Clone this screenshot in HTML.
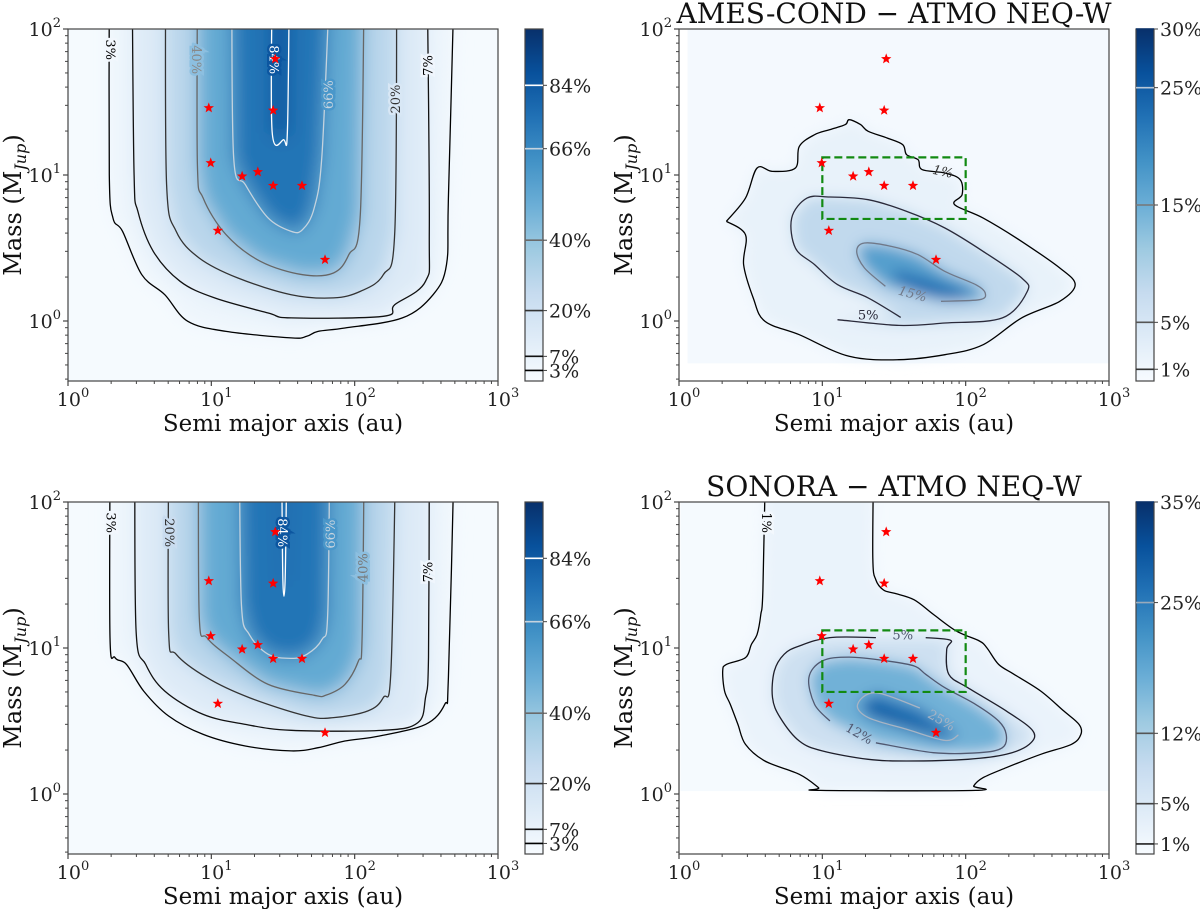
<!DOCTYPE html>
<html><head><meta charset="utf-8"><style>
html,body{margin:0;padding:0;background:#fff;}
svg{display:block;font-family:"DejaVu Serif","Liberation Serif",serif;}
</style></head><body>
<svg id="fig" width="1200" height="909" viewBox="0 0 1200 909" xmlns="http://www.w3.org/2000/svg">
<defs>
<filter id="blurL" x="-20%" y="-20%" width="140%" height="140%"><feGaussianBlur stdDeviation="9"/></filter>
<filter id="blurR" x="-20%" y="-20%" width="140%" height="140%"><feGaussianBlur stdDeviation="7"/></filter>
</defs>
</svg>
<script>
// ---------- data (log10 a [au], log10 M [Mjup]) ----------
const stars = [[9.6,28.8],[27,27.7],[27.9,62.4],[9.9,12.1],[16.4,9.8],[21.1,10.5],[27,8.45],[42.9,8.45],[11.1,4.16],[62.1,2.63]];
const boxA = [10,100];
const boxM = [5,13.2];

const tlLevels = [3,7,20,40,66,84];
const tl3 = [[0.288,2.3],[0.288,1.0],[0.314,0.705],[0.381,0.614],[0.515,0.317],[0.675,0.18],[0.836,-0.002],[1.103,-0.071],[1.557,-0.116],[1.665,-0.105],[1.745,-0.071],[1.932,-0.048],[2.333,0.021],[2.547,0.18],[2.641,0.386],[2.654,0.842],[2.694,2.3]];
const tl7 = [[0.448,2.3],[0.461,1.0],[0.488,0.751],[0.595,0.477],[0.782,0.272],[1.023,0.158],[1.397,0.055],[1.557,0.021],[2.2,0.032],[2.28,0.112],[2.494,0.272],[2.521,0.614],[2.507,2.3]];
const tl20 = [[0.68,2.3],[0.688,0.934],[0.755,0.614],[0.916,0.431],[1.183,0.295],[1.557,0.18],[1.852,0.158],[2.039,0.203],[2.2,0.317],[2.28,0.614],[2.293,2.3]];
const tl40 = [[0.903,2.3],[0.903,1.071],[0.943,0.842],[1.103,0.591],[1.344,0.408],[1.637,0.317],[1.852,0.329],[1.959,0.454],[2.039,0.728],[2.066,2.3]];
const tl66 = [[1.143,2.3],[1.156,1.116],[1.237,0.934],[1.397,0.705],[1.557,0.614],[1.637,0.626],[1.718,0.774],[1.772,1.139],[1.825,2.3]];
const tl84 = [[1.424,2.3],[1.424,1.299],[1.504,1.242],[1.531,1.299],[1.544,2.3]];

const blLevels = [3,7,20,40,66,84];
const bl3 = [[0.293,2.3],[0.293,1.071],[0.328,0.934],[0.408,0.888],[0.528,0.705],[0.702,0.534],[0.943,0.408],[1.237,0.329],[1.557,0.295],[1.745,0.317],[1.932,0.363],[2.173,0.397],[2.494,0.477],[2.628,0.614],[2.654,0.797],[2.694,2.3]];
const bl7 = [[0.466,2.3],[0.475,1.116],[0.542,0.888],[0.675,0.705],[0.943,0.545],[1.237,0.477],[1.557,0.436],[2.2,0.436],[2.441,0.489],[2.494,0.66],[2.515,0.934],[2.521,2.3]];
const bl20 = [[0.702,2.3],[0.702,1.116],[0.755,0.957],[0.969,0.797],[1.264,0.66],[1.665,0.534],[1.852,0.523],[2.093,0.569],[2.2,0.66],[2.253,0.842],[2.285,2.3]];
const bl40 = [[0.91,2.3],[0.916,1.208],[0.969,1.071],[1.13,0.934],[1.397,0.751],[1.718,0.676],[1.798,0.676],[1.932,0.751],[2.026,0.911],[2.052,1.071],[2.066,2.3]];
const bl66 = [[1.196,2.3],[1.21,1.299],[1.264,1.094],[1.397,0.957],[1.557,0.929],[1.665,0.956],[1.772,1.059],[1.812,1.23],[1.825,2.3]];
const bl84 = [[1.491,2.3],[1.499,1.46],[1.515,1.46],[1.526,2.3]];

const trLevels = [1,5,15];
const tr1 = [[0.331,0.683],[0.464,0.842],[0.545,1.048],[0.652,1.025],[0.812,1.048],[0.839,1.196],[0.946,1.276],[1.053,1.311],[1.16,1.345],[1.187,1.379],[1.267,1.345],[1.32,1.299],[1.454,1.253],[1.561,1.208],[1.588,1.139],[1.668,1.105],[1.695,1.037],[1.855,1.014],[1.962,0.968],[1.975,0.865],[1.922,0.797],[2.122,0.705],[2.39,0.545],[2.657,0.363],[2.764,0.249],[2.657,0.135],[2.39,0.021],[2.122,-0.162],[1.855,-0.231],[1.534,-0.265],[1.187,-0.242],[0.839,-0.094],[0.599,-0.002],[0.518,0.158],[0.451,0.386],[0.464,0.591],[0.331,0.683]];
const tr5 = [[1.547,0.025],[1.32,0.158],[1.106,0.249],[0.946,0.386],[0.812,0.5],[0.786,0.705],[0.893,0.842],[1.053,0.849],[1.32,0.831],[1.588,0.751],[1.855,0.637],[2.122,0.477],[2.39,0.295],[2.43,0.203],[2.256,0.021],[1.855,-0.014],[1.534,-0.03],[1.106,0.009]];
const tr15 = [[1.44,0.238],[1.294,0.363],[1.24,0.477],[1.294,0.534],[1.481,0.511],[1.668,0.454],[1.855,0.34],[2.069,0.249],[2.136,0.192],[2.096,0.146],[1.828,0.135]];
const trCore = [[1.5,0.35],[1.7,0.3],[1.95,0.22],[2.05,0.18],[1.95,0.14],[1.7,0.18],[1.5,0.28]];

const brLevels = [1,5,12,25];
const br1 = [[0.604,2.3],[0.585,1.397],[0.571,1.23],[0.545,1.094],[0.505,1.025],[0.464,0.934],[0.331,0.888],[0.305,0.842],[0.318,0.705],[0.358,0.614],[0.411,0.477],[0.464,0.34],[0.599,0.226],[0.839,0.135],[0.973,0.044],[0.986,0.025],[2.069,0.025],[2.056,0.055],[2.122,0.112],[2.283,0.18],[2.524,0.272],[2.737,0.34],[2.804,0.408],[2.791,0.477],[2.684,0.569],[2.524,0.705],[2.337,0.82],[2.23,0.888],[2.149,1.0],[2.096,1.048],[1.935,1.116],[1.775,1.23],[1.641,1.33],[1.507,1.374],[1.427,1.397],[1.374,1.466],[1.352,1.619],[1.358,2.3]];
const br5 = [[1.721,1.071],[1.895,1.053],[1.868,0.991],[1.882,0.82],[2.015,0.728],[2.283,0.569],[2.47,0.431],[2.443,0.34],[2.283,0.272],[2.015,0.238],[1.588,0.226],[1.32,0.238],[0.999,0.295],[0.839,0.363],[0.706,0.523],[0.652,0.66],[0.665,0.842],[0.733,0.957],[0.839,1.014],[1.053,1.071],[1.374,1.071]];
const br12 = [[1.374,0.351],[1.775,0.283],[2.096,0.283],[2.256,0.317],[2.283,0.408],[2.23,0.5],[2.069,0.614],[1.855,0.728],[1.721,0.82],[1.641,0.877],[1.454,0.911],[1.187,0.938],[0.999,0.911],[0.906,0.797],[0.946,0.614],[1.053,0.5]];
const br25 = [[1.681,0.589],[1.374,0.694],[1.246,0.614],[1.32,0.523],[1.588,0.443],[1.855,0.367],[1.949,0.404]];
const brCore = [[1.35,0.62],[1.5,0.56],[1.75,0.45],[1.85,0.4],[1.7,0.42],[1.45,0.5],[1.3,0.58]];

const xTickLabels = ["0","1","2","3"];
const yTickLabels = ["0","1","2"];

// ---------- helpers ----------
const NS = "http://www.w3.org/2000/svg";
const svg = document.getElementById("fig");
const W = 430, H = 352, YMIN = 2 - 352/146, YMAX = 2;
const blues = [[0,"#f7fbff"],[0.125,"#deebf7"],[0.25,"#c6dbef"],[0.375,"#9ecae1"],[0.5,"#6baed6"],[0.625,"#4292c6"],[0.75,"#2171b5"],[0.875,"#08519c"],[1,"#08306b"]];
function hex(c){return [parseInt(c.slice(1,3),16),parseInt(c.slice(3,5),16),parseInt(c.slice(5,7),16)];}
function cmap(t){t=Math.max(0,Math.min(1,t));for(let i=1;i<blues.length;i++){if(t<=blues[i][0]){const a=blues[i-1],b=blues[i];const f=(t-a[0])/(b[0]-a[0]);const ca=hex(a[1]),cb=hex(b[1]);return "rgb("+ca.map((v,k)=>Math.round(v+(cb[k]-v)*f)).join(",")+")";}}return blues[8][1];}
function el(tag,attrs,parent){const e=document.createElementNS(NS,tag);for(const k in attrs)e.setAttribute(k,attrs[k]);(parent||svg).appendChild(e);return e;}
function sx(p,la){return p.x0 + la/3*W;}
function sy(p,lm){return p.y0 + (YMAX-lm)/(YMAX-YMIN)*H;}
function pts(p,arr){return arr.map(q=>sx(p,q[0]).toFixed(1)+","+sy(p,q[1]).toFixed(1)).join(" ");}
function smooth(p,arr){
  const P=arr.map(q=>[sx(p,q[0]),sy(p,q[1])]);
  let d="M"+P[0][0].toFixed(1)+","+P[0][1].toFixed(1);
  for(let i=0;i<P.length-1;i++){
    const p0=P[Math.max(0,i-1)],p1=P[i],p2=P[i+1],p3=P[Math.min(P.length-1,i+2)];
    const c1=[p1[0]+(p2[0]-p0[0])/6,p1[1]+(p2[1]-p0[1])/6];
    const c2=[p2[0]-(p3[0]-p1[0])/6,p2[1]-(p3[1]-p1[1])/6];
    d+=" C"+c1[0].toFixed(1)+","+c1[1].toFixed(1)+" "+c2[0].toFixed(1)+","+c2[1].toFixed(1)+" "+p2[0].toFixed(1)+","+p2[1].toFixed(1);
  }
  return d;
}

function panel(p){
  const g = el("g",{});
  
  
  const cid = "clip-"+p.name;
  const cp = el("clipPath",{id:cid},g);
  el("rect",{x:p.x0,y:p.y0,width:W,height:H},cp);
  const plot = el("g",{"clip-path":"url(#"+cid+")"},g);
  
  
  el("rect",{x:p.x0,y:p.y0,width:W,height:H,fill:"#ffffff"},plot);
  if(p.bgA){
    el("rect",{x:sx(p,p.bgA[0]),y:sy(p,p.bgM[1]),width:sx(p,p.bgA[1])-sx(p,p.bgA[0]),height:sy(p,p.bgM[0])-sy(p,p.bgM[1]),fill:cmap(p.bgVal/p.vmax)},plot);
  } else {
    el("rect",{x:p.x0,y:p.y0,width:W,height:H,fill:cmap(p.bgVal/p.vmax)},plot);
  }
  const blurG = el("g",{filter:"url(#"+p.blur+")"},plot);
  p.fills.forEach(f=>{
    el("polygon",{points:pts(p,f.c),fill:cmap(f.v/p.vmax)},blurG);
  });
  p.lines.forEach(l=>{
    const pl = el("path",{d:smooth(p,l.c),fill:"none",stroke:l.col,"stroke-width":1.3,"stroke-linejoin":"round"},plot);
    
    
  });
  p.labels.forEach(l=>{
    const x=sx(p,l.a), y=sy(p,l.m);
    const t = el("text",{x:x,y:y,"font-size":13,fill:l.col,"text-anchor":"middle","dominant-baseline":"central",transform:"rotate("+l.r+" "+x+" "+y+")","font-style":l.it?"italic":"normal",stroke:l.bg,"stroke-width":5,"paint-order":"stroke"},plot);
    t.textContent = l.t;
    
    
  });
  if(p.box){
    const r = el("rect",{x:sx(p,Math.log10(boxA[0])),y:sy(p,Math.log10(boxM[1])),width:sx(p,Math.log10(boxA[1]))-sx(p,Math.log10(boxA[0])),height:sy(p,Math.log10(boxM[0]))-sy(p,Math.log10(boxM[1])),fill:"none",stroke:"#128a12","stroke-width":2.2,"stroke-dasharray":"8,4"},plot);
    
    
  }
  stars.forEach(s=>{
    const cx=sx(p,Math.log10(s[0])), cy=sy(p,Math.log10(s[1]));
    let d=[];for(let i=0;i<10;i++){const rr=i%2?2.3:5.5;const ang=-Math.PI/2+i*Math.PI/5;d.push((cx+rr*Math.cos(ang)).toFixed(1)+","+(cy+rr*Math.sin(ang)).toFixed(1));}
    const st = el("polygon",{points:d.join(" "),fill:"#ff0000"},plot);
    
    
  });
  const fr = el("rect",{x:p.x0,y:p.y0,width:W,height:H,fill:"none",stroke:"#444","stroke-width":1.2},g);
  
  
  const xb = p.y0+H;
  for(let d=0;d<3;d++){for(let k=2;k<10;k++){const x=sx(p,d+Math.log10(k));el("line",{x1:x,y1:xb,x2:x,y2:xb+3,stroke:"#444","stroke-width":1},g);}}
  xTickLabels.forEach((lab,i)=>{
    const x=sx(p,+lab);
    el("line",{x1:x,y1:xb,x2:x,y2:xb+5,stroke:"#444","stroke-width":1.2},g);
    const t=el("text",{x:x+5,y:xb+25,"font-size":19,"text-anchor":"middle",fill:"#222"},g);
    t.textContent="10";
    const sp=el("tspan",{dy:-9,"font-size":13},t); sp.textContent=lab;
    
    
  });
  for(let d=-1;d<2;d++){for(let k=2;k<10;k++){const lm=d+Math.log10(k);if(lm<YMIN)continue;const y=sy(p,lm);el("line",{x1:p.x0,y1:y,x2:p.x0-3,y2:y,stroke:"#444","stroke-width":1},g);}}
  yTickLabels.forEach(lab=>{
    const y=sy(p,+lab);
    el("line",{x1:p.x0,y1:y,x2:p.x0-5,y2:y,stroke:"#444","stroke-width":1.2},g);
    const t=el("text",{x:p.x0-7,y:y+7,"font-size":19,"text-anchor":"end",fill:"#222"},g);
    t.textContent="10";
    const sp=el("tspan",{dy:-9,"font-size":13},t); sp.textContent=lab;
    
    
  });
  const xl=el("text",{x:p.x0+W/2,y:xb+50,"font-size":23,"text-anchor":"middle",fill:"#111"},g);
  xl.textContent="Semi major axis (au)";
  
  
  const yx=p.x0-47, yy=p.y0+H/2;
  const yl=el("text",{x:yx,y:yy,"font-size":24,"text-anchor":"middle",fill:"#111",transform:"rotate(-90 "+yx+" "+yy+")"},g);
  yl.textContent="Mass (M";
  const sub=el("tspan",{dy:5,"font-size":16,"font-style":"italic"},yl); sub.textContent="Jup";
  const cl=el("tspan",{dy:-5},yl); cl.textContent=")";
  
  
  if(p.title){
    const tt=el("text",{x:p.x0+W/2,y:p.y0-6,"font-size":28,"text-anchor":"middle",fill:"#111"},g);
    tt.textContent=p.title;
    
    
  }
  const cg=el("g",{},g);
  
  
  const gid="grad-"+p.name;
  const lg=el("linearGradient",{id:gid,x1:0,y1:1,x2:0,y2:0},cg);
  blues.forEach(b=>el("stop",{offset:b[0],"stop-color":b[1]},lg));
  el("rect",{x:p.cb,y:p.y0,width:18,height:H,fill:"url(#"+gid+")",stroke:"#444","stroke-width":1.2},cg);
  p.cbTicks.forEach((v,i)=>{
    const y=p.y0+H*(1-v/p.vmax);
    el("line",{x1:p.cb,y1:y,x2:p.cb+18,y2:y,stroke:p.cbCols[i],"stroke-width":1.6},cg);
    el("line",{x1:p.cb+18,y1:y,x2:p.cb+22,y2:y,stroke:"#444","stroke-width":1},cg);
    const t=el("text",{x:p.cb+24,y:y+7,"font-size":19,fill:"#222"},cg);
    t.textContent=v+"%";
    
    
  });
}

const leftCols = ["#000","#111","#333","#6a6a6a","#c5d3de","#ffffff"];
panel({name:"panel-top-left",x0:68,y0:29,cb:525,vmax:100,bgVal:1,blur:"blurL",
  fills:[{c:tl3,v:5},{c:tl7,v:13},{c:tl20,v:29},{c:tl40,v:52},{c:tl66,v:74},{c:tl84,v:87}],
  lines:[{c:tl3,col:"#000",lab:"3"},{c:tl7,col:"#111",lab:"7"},{c:tl20,col:"#333",lab:"20"},{c:tl40,col:"#666",lab:"40"},{c:tl66,col:"#c5d3de",lab:"66"},{c:tl84,col:"#fff",lab:"84"}],
  labels:[{t:"3%",a:0.288,m:1.858,r:90,col:"#000",bg:"#f2f7fd"},{t:"40%",a:0.89,m:1.79,r:90,col:"#888",bg:"#8cbfe0"},{t:"84%",a:1.43,m:1.79,r:90,col:"#fff",bg:"#0c56a0"},{t:"66%",a:1.825,m:1.55,r:-90,col:"#c5d3de",bg:"#4a97ca"},{t:"20%",a:2.293,m:1.52,r:-90,col:"#333",bg:"#d8e7f5"},{t:"7%",a:2.52,m:1.75,r:-90,col:"#000",bg:"#f0f6fd"}],
  cbTicks:tlLevels,cbCols:leftCols});
panel({name:"panel-bottom-left",x0:68,y0:502,cb:525,vmax:100,bgVal:1,blur:"blurL",
  fills:[{c:bl3,v:5},{c:bl7,v:13},{c:bl20,v:29},{c:bl40,v:52},{c:bl66,v:74},{c:bl84,v:87}],
  lines:[{c:bl3,col:"#000",lab:"3"},{c:bl7,col:"#111",lab:"7"},{c:bl20,col:"#333",lab:"20"},{c:bl40,col:"#666",lab:"40"},{c:bl66,col:"#c5d3de",lab:"66"},{c:bl84,col:"#fff",lab:"84"}],
  labels:[{t:"3%",a:0.293,m:1.858,r:90,col:"#000",bg:"#f2f7fd"},{t:"20%",a:0.702,m:1.79,r:90,col:"#333",bg:"#c9dcef"},{t:"84%",a:1.491,m:1.79,r:90,col:"#fff",bg:"#0c56a0"},{t:"66%",a:1.84,m:1.78,r:-90,col:"#c5d3de",bg:"#4a97ca"},{t:"40%",a:2.066,m:1.55,r:-90,col:"#777",bg:"#8cbfe0"},{t:"7%",a:2.52,m:1.52,r:-90,col:"#000",bg:"#f0f6fd"}],
  cbTicks:blLevels,cbCols:leftCols});
panel({name:"panel-top-right",x0:679,y0:29,cb:1136,vmax:30,bgVal:0.4,blur:"blurR",bgA:[0.06,3.1],bgM:[-0.29,2.1],box:true,title:"AMES-COND \u2212 ATMO NEQ-W",
  fills:[{c:tr1,v:2.2},{c:tr5,v:8},{c:tr15,v:17},{c:trCore,v:23}],
  lines:[{c:tr1,col:"#000",lab:"1"},{c:tr5,col:"#2a2a3a",lab:"5"},{c:tr15,col:"#707888",lab:"15"}],
  labels:[{t:"1%",a:1.84,m:1.018,r:12,col:"#333",bg:"none",it:true},{t:"15%",a:1.628,m:0.18,r:15,col:"#707888",bg:"none",it:true},{t:"5%",a:1.32,m:0.035,r:0,col:"#2a2a3a",bg:"none"}],
  cbTicks:[1,5,15,25,30],cbCols:["#333","#555","#777","#b8c8d8","#08306b"]});
panel({name:"panel-bottom-right",x0:679,y0:502,cb:1136,vmax:35,bgVal:0.4,blur:"blurR",bgA:[0.01,3.1],bgM:[0.02,2.1],box:true,title:"SONORA \u2212 ATMO NEQ-W",
  fills:[{c:br1,v:2.2},{c:br5,v:7.5},{c:br12,v:17},{c:br25,v:26},{c:brCore,v:29}],
  lines:[{c:br1,col:"#000",lab:"1"},{c:br5,col:"#1e1e2a",lab:"5"},{c:br12,col:"#505870",lab:"12"},{c:br25,col:"#a8b4c4",lab:"25"}],
  labels:[{t:"1%",a:0.604,m:1.858,r:90,col:"#000",bg:"#f3f8fd"},{t:"5%",a:1.561,m:1.082,r:0,col:"#505870",bg:"none"},{t:"12%",a:1.254,m:0.408,r:30,col:"#505870",bg:"none"},{t:"25%",a:1.828,m:0.5,r:30,col:"#a8b4c4",bg:"none"}],
  cbTicks:[1,5,12,25,35],cbCols:["#222","#444","#555","#9ab","#08306b"]});
</script>
</body></html>
